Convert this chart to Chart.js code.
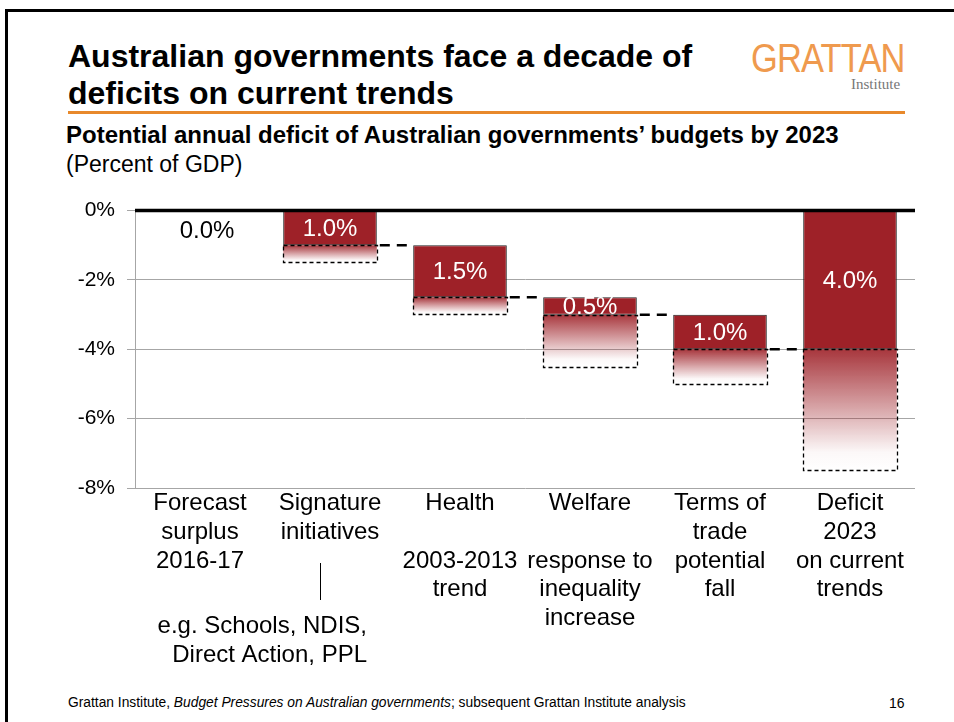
<!DOCTYPE html>
<html><head><meta charset="utf-8">
<script src="https://cdn.jsdelivr.net/npm/chart.js@4.4.1/dist/chart.umd.min.js"></script>
<style>
html,body{margin:0;padding:0;background:#fff;width:954px;height:722px;overflow:hidden;font-family:"Liberation Sans",Arial,sans-serif;color:#000;}
#frame{position:absolute;left:5px;top:9px;width:1000px;height:800px;border:3px solid #000;box-sizing:border-box;}
#title{position:absolute;left:68px;top:38px;font-weight:bold;font-size:32px;line-height:37px;white-space:nowrap;}
#rule{position:absolute;left:68px;top:111px;width:837px;height:3px;background:#E8892B;}
#logo{position:absolute;left:751px;top:35px;font-size:41px;color:#EF9A4E;transform:scaleX(0.84);transform-origin:left top;letter-spacing:-1px;white-space:nowrap;}
#inst{position:absolute;left:851px;top:76px;font-family:"Liberation Serif","Times New Roman",serif;font-size:15px;color:#777;}
#sub{position:absolute;left:66px;top:121px;font-weight:bold;font-size:24px;white-space:nowrap;}
#unit{position:absolute;left:66px;top:151px;font-size:23px;white-space:nowrap;}
#wrap{position:absolute;left:0;top:186px;width:954px;height:494px;}
#foot{position:absolute;left:68px;top:695px;font-size:13.8px;white-space:nowrap;}
#page{position:absolute;left:889px;top:695px;font-size:14px;}
</style></head>
<body>
<div id="frame"></div>
<div id="title">Australian governments face a decade of<br>deficits on current trends</div>
<div id="logo">GRATTAN</div>
<div id="inst">Institute</div>
<div id="rule"></div>
<div id="sub">Potential annual deficit of Australian governments’ budgets by 2023</div>
<div id="unit">(Percent of GDP)</div>
<div id="wrap"><canvas id="c"></canvas></div>
<div id="foot">Grattan Institute, <i>Budget Pressures on Australian governments</i>; subsequent Grattan Institute analysis</div>
<div id="page">16</div>
<script>
const categories = [
  ["Forecast","surplus","2016-17"],
  ["Signature","initiatives"],
  ["Health","","2003-2013","trend"],
  ["Welfare","","response to","inequality","increase"],
  ["Terms of","trade","potential","fall"],
  ["Deficit","2023","on current","trends"]
];
const startValues = [0, 0, -1.0, -2.5, -3.0, 0];
const deficitValues = [0.0, 1.0, 1.5, 0.5, 1.0, 4.0];
const uncertaintyValues = [0, 0.5, 0.5, 1.5, 1.0, 3.5];
const yTicks = [0, -2, -4, -6, -8];
const annotationLines = ["e.g. Schools, NDIS,", "Direct Action, PPL"];

const FONT = '"Liberation Sans", Arial, sans-serif';
const RED = '#9E2128';

const endValues = startValues.map((s, i) => s - deficitValues[i]);
const solidData = startValues.map((s, i) => deficitValues[i] === 0 ? null : [s, endValues[i]]);
const rangeData = endValues.map((e, i) => uncertaintyValues[i] === 0 ? null : [e, e - uncertaintyValues[i]]);

const deco = {
  id: 'deco',
  afterDatasetsDraw(chart) {
    const ctx = chart.ctx, x = chart.scales.x, y = chart.scales.y, ca = chart.chartArea;
    const solidMeta = chart.getDatasetMeta(0), rangeMeta = chart.getDatasetMeta(1);
    const w = solidMeta.data[1].getProps(['width'], true).width;
    ctx.save();
    // dashed outlines of uncertainty ranges
    ctx.setLineDash([4, 3]);
    ctx.lineWidth = 1.3;
    ctx.strokeStyle = '#000';
    rangeMeta.data.forEach((el, i) => {
      if (!rangeData[i]) return;
      const p = el.getProps(['x', 'y', 'base', 'width'], true);
      const top = Math.min(p.y, p.base), h = Math.abs(p.base - p.y);
      ctx.strokeRect(Math.round(p.x - p.width / 2) + 0.5, Math.round(top) + 0.5, Math.round(p.width), Math.round(h));
    });
    // connectors
    ctx.setLineDash([10, 7]);
    ctx.lineWidth = 2.5;
    for (let i = 0; i < categories.length - 1; i++) {
      const yy = y.getPixelForValue(endValues[i]);
      ctx.beginPath();
      ctx.moveTo(x.getPixelForValue(i) + w / 2 + 3, yy);
      ctx.lineTo(x.getPixelForValue(i + 1) - w / 2, yy);
      ctx.stroke();
    }
    // zero line
    ctx.setLineDash([]);
    ctx.lineWidth = 3.5;
    ctx.beginPath();
    const y0 = y.getPixelForValue(0);
    ctx.moveTo(ca.left, y0);
    ctx.lineTo(ca.right, y0);
    ctx.stroke();
    // value labels
    ctx.font = '24px ' + FONT;
    ctx.textAlign = 'center';
    ctx.textBaseline = 'middle';
    deficitValues.forEach((v, i) => {
      const cx = x.getPixelForValue(i);
      const txt = v.toFixed(1) + '%';
      if (v === 0) {
        ctx.fillStyle = '#000';
        ctx.fillText(txt, cx + 7, y0 + 21);
      } else {
        ctx.fillStyle = '#fff';
        ctx.fillText(txt, cx, (y.getPixelForValue(startValues[i]) + y.getPixelForValue(endValues[i])) / 2 + 1);
      }
    });
    // annotation under "Signature initiatives"
    const ax = x.getPixelForValue(1);
    ctx.strokeStyle = '#000';
    ctx.lineWidth = 1;
    ctx.beginPath();
    ctx.moveTo(Math.round(ax - 10) + 0.5, ca.bottom + 75);
    ctx.lineTo(Math.round(ax - 10) + 0.5, ca.bottom + 112);
    ctx.stroke();
    ctx.fillStyle = '#000';
    ctx.textAlign = 'right';
    ctx.textBaseline = 'alphabetic';
    annotationLines.forEach((t, k) => ctx.fillText(t, ax + 37, ca.bottom + 145 + k * 28.5));
    ctx.restore();
  }
};

new Chart(document.getElementById('c'), {
  type: 'bar',
  data: {
    labels: categories,
    datasets: [
      {
        label: 'Deficit',
        data: solidData,
        backgroundColor: RED,
        borderColor: '#222',
        borderWidth: 1,
        borderSkipped: false,
        grouped: false,
        barPercentage: 0.72,
        categoryPercentage: 1.0
      },
      {
        label: 'Uncertainty',
        data: rangeData,
        backgroundColor: (c) => {
          const chart = c.chart;
          if (!chart.chartArea || c.type !== 'data' || !c.raw) return 'rgba(158,33,40,0.4)';
          const ys = chart.scales.y;
          const g = chart.ctx.createLinearGradient(0, ys.getPixelForValue(c.raw[0]), 0, ys.getPixelForValue(c.raw[1]));
          g.addColorStop(0, 'rgba(158,33,40,0.9)');
          g.addColorStop(0.85, 'rgba(158,33,40,0.03)');
          g.addColorStop(1, 'rgba(158,33,40,0)');
          return g;
        },
        borderWidth: 0,
        grouped: false,
        barPercentage: 0.72,
        categoryPercentage: 1.0
      }
    ]
  },
  options: {
    responsive: true,
    maintainAspectRatio: false,
    animation: false,
    layout: { padding: { left: 0, right: 39, top: 6, bottom: 0 } },
    plugins: { legend: { display: false }, tooltip: { enabled: false } },
    scales: {
      x: {
        grid: { display: false, drawTicks: false, tickLength: 0 },
        border: { display: false },
        ticks: { font: { size: 24, family: FONT, lineHeight: 1.2 }, color: '#000', padding: 1, maxRotation: 0, autoSkip: false },
        afterFit: (s) => { s.height = 192; }
      },
      y: {
        min: -8, max: 0,
        afterBuildTicks: (s) => { s.ticks = yTicks.map(v => ({ value: v })); },
        ticks: { callback: (v) => v + '%', font: { size: 21, family: FONT }, color: '#000', padding: 12 },
        grid: { color: '#a6a6a6', lineWidth: 1, tickLength: 8, tickColor: '#a6a6a6' },
        border: { color: '#a6a6a6', width: 1 },
        afterFit: (s) => { s.width = 135; }
      }
    }
  },
  plugins: [deco]
});
</script>
</body></html>
